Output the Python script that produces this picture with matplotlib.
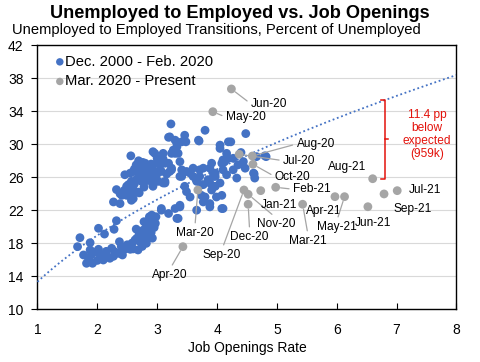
import numpy as np
import matplotlib
matplotlib.use("Agg")
import matplotlib.pyplot as plt

plt.rcParams['font.family'] = ['Liberation Sans', 'DejaVu Sans']

# Dec. 2000 - Feb. 2020 (job openings rate, U->E transition %)
blue_pts = [
    # lower band
    (1.71, 18.66), (1.67, 17.57), (1.77, 16.56), (1.82, 15.55), (1.92, 15.55), (1.88, 18.05),
    (1.88, 17.17), (1.90, 16.56), (2.02, 17.25), (2.02, 19.80), (2.12, 19.10), (2.28, 19.68),
    (2.32, 20.72), (2.10, 15.95), (2.16, 16.35), (2.21, 16.16), (2.24, 17.37), (2.29, 16.96),
    (2.37, 18.17), (2.35, 16.76), (2.42, 16.56), (2.46, 17.25), (2.55, 17.25), (2.63, 18.38),
    (2.68, 17.17), (2.71, 18.17), (2.77, 19.59), (2.74, 18.99), (2.82, 20.00), (2.85, 18.78),
    (2.87, 21.20), (2.82, 17.98), (1.95, 16.90), (1.85, 16.20), (2.05, 16.50), (2.00, 15.90),
    (2.15, 17.00), (2.27, 16.40), (2.40, 17.60), (2.50, 17.80), (2.58, 18.00), (2.60, 17.30),
    (2.66, 18.60), (2.70, 19.20), (2.75, 17.60), (2.79, 18.40), (2.80, 19.00), (2.84, 19.60),
    (2.88, 20.30), (2.90, 19.30), (2.93, 20.60), (2.95, 19.90), (2.97, 20.40), (2.92, 18.60),
    (2.98, 21.20), (2.78, 20.60), (2.65, 19.70),
    # 2000s cluster
    (3.23, 32.47), (3.19, 30.85), (3.30, 30.50), (3.46, 31.10), (3.48, 30.30), (3.33, 29.70),
    (3.24, 28.90), (3.35, 28.90), (2.93, 29.10), (2.96, 28.90), (3.10, 28.90), (2.56, 28.60),
    (3.05, 27.70), (3.19, 27.70), (3.38, 27.90), (3.24, 26.90), (3.38, 26.10), (2.80, 27.70),
    (2.71, 27.10), (2.82, 26.90), (2.93, 26.90), (2.60, 26.70), (2.46, 26.30), (2.55, 26.50),
    (2.74, 26.10), (2.88, 25.90), (2.99, 26.30), (3.02, 25.50), (3.13, 25.50), (2.93, 25.10),
    (2.74, 25.50), (2.57, 25.50), (2.49, 24.90), (2.60, 24.50), (2.68, 24.20), (2.32, 24.50),
    (2.41, 23.80), (2.49, 23.80), (2.57, 23.60), (2.27, 23.00), (2.38, 22.80), (2.60, 23.40),
    (2.70, 24.10), (2.93, 24.90), (3.13, 25.30), (3.41, 30.30), (3.27, 29.30), (3.30, 28.90),
    (3.41, 26.90), (3.21, 30.90), (3.33, 30.10), (3.07, 26.70), (2.88, 26.70), (2.99, 27.70),
    (3.13, 27.70), (3.24, 27.10), (2.57, 23.20), (2.65, 27.50), (2.70, 26.60), (2.78, 26.40),
    (2.85, 27.20), (2.90, 27.60), (2.66, 25.80), (2.84, 25.60), (2.52, 25.10), (2.62, 25.20),
    (2.45, 24.40), (2.38, 24.00), (2.55, 24.00), (2.78, 24.80), (2.96, 26.00), (3.05, 26.90),
    (3.16, 26.40), (3.00, 28.30), (3.10, 28.20), (2.76, 27.80), (2.69, 28.00), (2.62, 27.00),
    # late 2010s cluster
    (3.80, 31.70), (3.70, 30.40), (4.05, 29.50), (4.19, 30.30), (4.48, 31.30), (4.23, 30.30),
    (4.05, 29.90), (3.77, 27.10), (3.88, 27.10), (4.08, 27.70), (4.13, 27.90), (3.97, 26.50),
    (3.71, 26.90), (3.60, 26.10), (3.91, 27.70), (4.10, 28.10), (4.16, 28.90), (4.27, 28.30),
    (4.44, 27.90), (4.66, 28.50), (4.80, 28.60), (4.47, 27.10), (4.61, 26.50), (4.63, 25.90),
    (4.27, 26.90), (4.33, 25.90), (3.94, 26.50), (4.10, 26.90), (4.05, 25.30), (3.91, 24.45),
    (3.99, 23.60), (4.08, 22.20), (3.88, 22.80), (4.19, 28.30), (4.16, 26.30), (3.94, 26.10),
    (3.88, 25.30), (3.77, 25.10), (3.97, 24.90), (4.08, 23.80), (3.77, 23.00), (4.10, 22.20),
    (3.74, 23.80), (3.49, 24.25), (3.55, 23.60), (3.38, 22.40), (3.19, 21.60), (3.07, 22.00),
    (2.91, 21.40), (3.35, 21.00), (3.60, 27.10), (3.71, 26.10), (3.49, 26.70), (3.41, 26.10),
    (3.46, 24.90), (3.38, 22.60), (3.30, 22.20), (3.07, 22.20), (3.33, 21.00), (2.93, 21.20),
    (3.74, 25.10), (3.80, 23.60), (3.88, 22.40), (3.66, 22.00), (3.97, 26.10), (3.85, 25.70),
    (3.55, 26.50), (3.21, 26.70), (3.66, 25.50), (3.10, 25.30), (3.69, 30.50), (4.82, 28.50),
    (4.62, 26.40), (4.35, 27.50), (4.40, 29.00),
]
blue_x = [p[0] for p in blue_pts]
blue_y = [p[1] for p in blue_pts]

# Mar. 2020 - present
gray_labels = ['Mar-20', 'Apr-20', 'May-20', 'Jun-20', 'Jul-20', 'Aug-20', 'Sep-20', 'Oct-20',
               'Nov-20', 'Dec-20', 'Jan-21', 'Feb-21', 'Mar-21', 'Apr-21', 'May-21', 'Jun-21',
               'Jul-21', 'Aug-21', 'Sep-21']
gray_x = [3.68, 3.43, 3.93, 4.24, 4.37, 4.59, 4.45, 4.60, 4.52, 4.52, 4.73, 4.98, 5.43, 5.97,
          6.13, 6.52, 7.01, 6.60, 6.79]
gray_y = [24.45, 17.57, 33.96, 36.72, 28.79, 28.58, 24.45, 27.57, 23.93, 22.72, 24.37, 24.78,
          22.72, 23.64, 23.64, 22.42, 24.37, 25.82, 23.97]

# power trendline y = a * x^b
trend_a = 13.3
trend_b = 0.51

gap_x = 6.8
gap_text = "11.4 pp\nbelow\nexpected\n(959k)"

# label layout: (x, y, ha, va, leader relpos or None)
label_pos = {
    'Jun-20': (4.567, 34.9, 'left', 'center', (0, 0.5)),
    'May-20': (4.15, 33.28, 'left', 'center', (0, 0.5)),
    'Aug-20': (5.33, 30.04, 'left', 'center', (0, 0.5)),
    'Jul-20': (5.106, 28.01, 'left', 'center', (0, 0.5)),
    'Oct-20': (4.968, 26.07, 'left', 'center', (0, 0.5)),
    'Feb-21': (5.273, 24.54, 'left', 'center', (0, 0.5)),
    'Jan-21': (4.734, 22.63, 'left', 'center', None),
    'Nov-20': (4.99, 21.05, 'center', 'top', (0.5, 1)),
    'Dec-20': (4.545, 19.47, 'center', 'top', (0.5, 1)),
    'Sep-20': (4.085, 17.29, 'center', 'top', (0.5, 1)),
    'Mar-20': (3.63, 19.96, 'center', 'top', (0.5, 1)),
    'Apr-20': (3.214, 14.86, 'center', 'top', (0.5, 1)),
    'Mar-21': (5.52, 18.99, 'center', 'top', (0.5, 1)),
    'May-21': (6.0, 20.69, 'center', 'top', (0.5, 1)),
    'Apr-21': (5.486, 21.94, 'left', 'center', None),
    'Jun-21': (6.304, 20.41, 'left', 'center', None),
    'Sep-21': (6.944, 22.11, 'left', 'center', None),
    'Jul-21': (7.211, 24.45, 'left', 'center', None),
    'Aug-21': (5.858, 27.28, 'left', 'center', None),
}

blue = '#4472C4'
gray = '#A5A5A5'
red = '#E3120B'

fig = plt.figure(figsize=(4.8, 3.62), dpi=100)
ax = fig.add_axes([0.078, 0.1464, 0.873, 0.728])

ax.scatter(blue_x, blue_y, s=40, color=blue, edgecolors='none', zorder=3,
           label='Dec. 2000 - Feb. 2020')
xs = np.linspace(1, 8, 200)
ax.plot(xs, trend_a * xs ** trend_b, linestyle=(0, (1, 1.5)), color=blue, lw=1.3, zorder=4)
ax.scatter(gray_x, gray_y, s=40, color=gray, edgecolors='none', zorder=5,
           label='Mar. 2020 - Present')

for lab, px, py in zip(gray_labels, gray_x, gray_y):
    tx, ty, ha, va, rel = label_pos[lab]
    if rel is None:
        ax.text(tx, ty, lab, ha=ha, va=va, fontsize=8.6, zorder=6)
    else:
        ax.annotate(lab, xy=(px, py), xytext=(tx, ty), ha=ha, va=va, fontsize=8.6, zorder=6,
                    arrowprops=dict(arrowstyle='-', color=gray, lw=0.9, shrinkA=1, shrinkB=3.5,
                                    relpos=rel))

# gap bracket from trendline down to latest reading
top_y = trend_a * gap_x ** trend_b
bot_y = gray_y[gray_labels.index('Aug-21')]
ax.plot([gap_x - 0.06, gap_x, gap_x, gap_x - 0.06], [top_y, top_y, bot_y, bot_y],
        color=red, lw=1.1, zorder=6)
mid = (top_y + bot_y) / 2
ax.plot([gap_x, gap_x + 0.06], [mid, mid], color=red, lw=1.1, zorder=6)
ax.text(7.51, mid + 0.6, gap_text, color=red, ha='center', va='center', fontsize=8.6,
        linespacing=1.12)

ax.set_xlim(1, 8)
ax.set_ylim(10, 42)
ax.set_xticks(range(1, 9))
ax.set_yticks(range(10, 43, 4))
ax.grid(axis='y', color='#D9D9D9', lw=0.8)
ax.set_axisbelow(True)
ax.tick_params(axis='x', direction='in', length=4, labelsize=10, pad=10)
ax.tick_params(axis='y', direction='out', length=4, labelsize=10, pad=6)
for sp in ax.spines.values():
    sp.set_color('black')
    sp.set_linewidth(1)
ax.set_xlabel('Job Openings Rate', fontsize=10, labelpad=3)

ax.legend(loc='upper left', bbox_to_anchor=(0.02, 1.004), frameon=False, fontsize=10.6,
          handlelength=0.5, handletextpad=0.1, labelspacing=0.38, markerscale=0.85,
          borderaxespad=0.3)

fig.text(0.5, 0.963, 'Unemployed to Employed vs. Job Openings', ha='center', va='center',
         fontsize=13.1, fontweight='bold')
fig.text(0.025, 0.917, 'Unemployed to Employed Transitions, Percent of Unemployed',
         ha='left', va='center', fontsize=10.65)

fig.savefig('out.png', dpi=100)
